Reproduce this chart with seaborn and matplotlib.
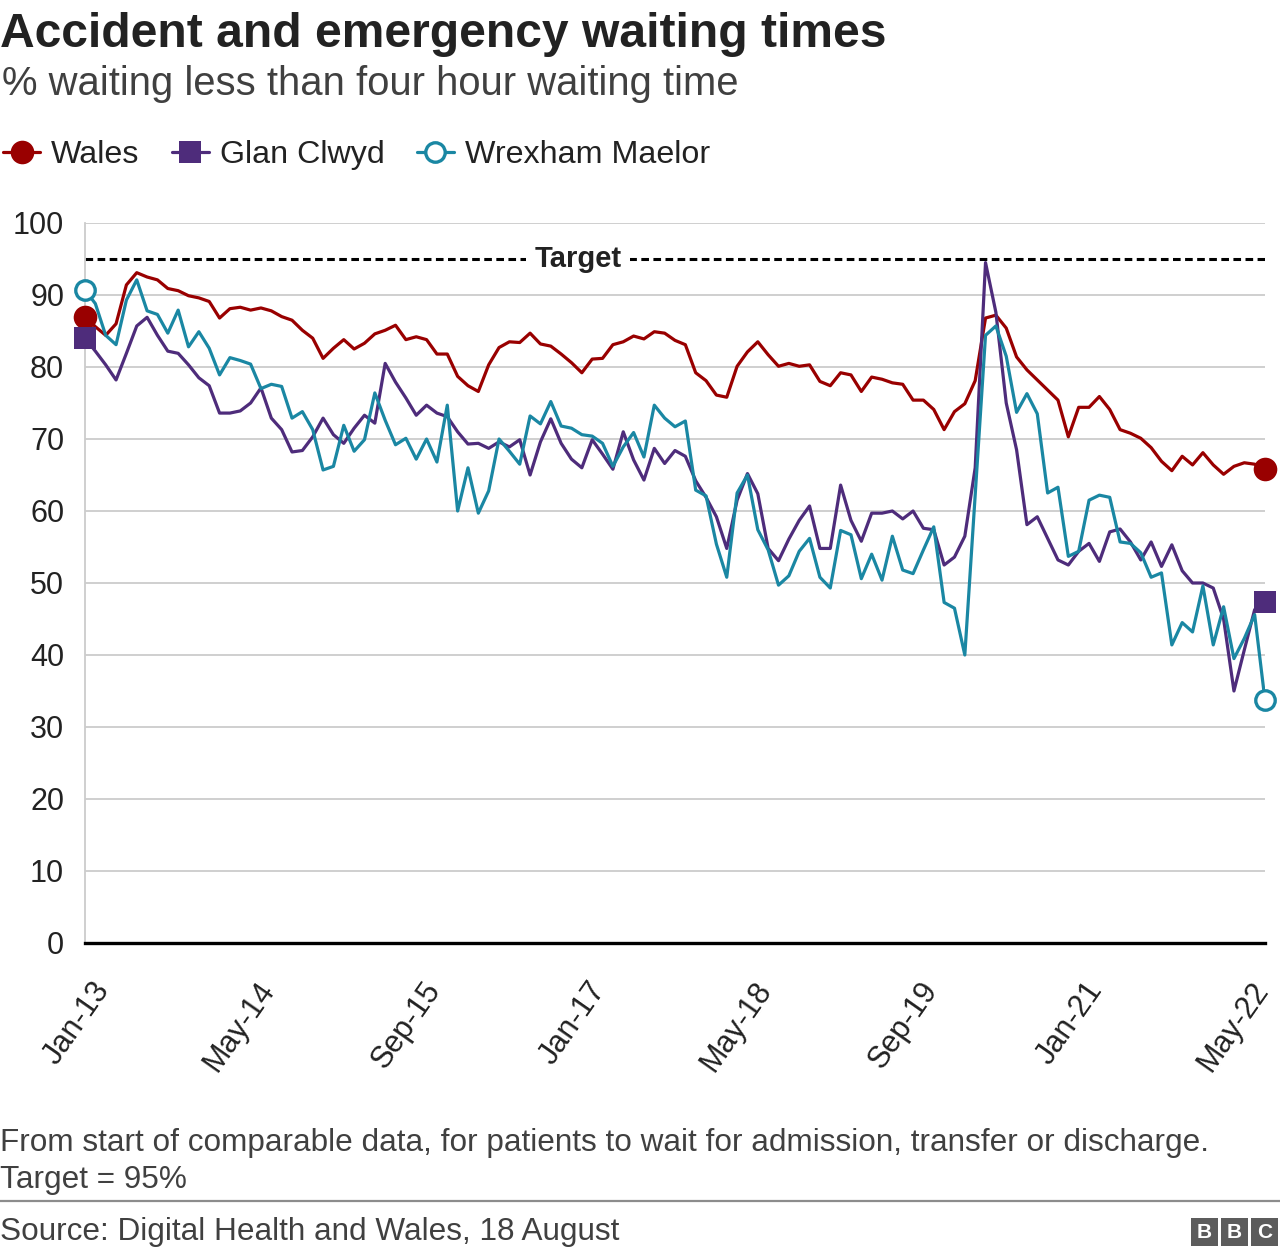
import matplotlib
matplotlib.use("Agg")
import matplotlib.pyplot as plt
from matplotlib.lines import Line2D
from matplotlib.patches import Rectangle
from matplotlib.transforms import ScaledTranslation
import pandas as pd
import seaborn as sns

# ---------------- data ----------------
wales = [87.0, 85.6, 84.4, 86.0, 91.4, 93.1, 92.5, 92.1, 90.9, 90.6,
         89.9, 89.6, 89.1, 86.8, 88.1, 88.3, 87.9, 88.2, 87.8, 87.0,
         86.5, 85.1, 84.0, 81.2, 82.6, 83.8, 82.5, 83.3, 84.6, 85.1,
         85.8, 83.8, 84.2, 83.8, 81.8, 81.8, 78.7, 77.4, 76.6, 80.3,
         82.7, 83.5, 83.4, 84.7, 83.2, 82.9, 81.8, 80.6, 79.2, 81.1,
         81.2, 83.1, 83.5, 84.3, 83.9, 84.9, 84.7, 83.7, 83.1, 79.2,
         78.1, 76.1, 75.8, 80.1, 82.1, 83.5, 81.7, 80.1, 80.5, 80.1,
         80.3, 78.0, 77.4, 79.2, 78.9, 76.6, 78.6, 78.3, 77.8, 77.6,
         75.4, 75.4, 74.1, 71.3, 73.8, 74.9, 78.1, 86.8, 87.2, 85.4,
         81.4, 79.6, 78.2, 76.8, 75.4, 70.3, 74.4, 74.4, 75.9, 74.1,
         71.3, 70.8, 70.1, 68.8, 66.9, 65.6, 67.6, 66.4, 68.1, 66.4,
         65.1, 66.2, 66.7, 66.5, 65.8]

glan_clwyd = [84.0, 82.2, 80.3, 78.2, 81.9, 85.7, 86.9, 84.4, 82.2, 81.9,
              80.3, 78.5, 77.4, 73.6, 73.6, 73.9, 75.0, 77.1, 72.9, 71.3,
              68.2, 68.4, 70.3, 72.9, 70.6, 69.4, 71.5, 73.3, 72.2, 80.5,
              77.9, 75.7, 73.3, 74.7, 73.6, 73.1, 71.0, 69.3, 69.4, 68.7,
              69.6, 68.9, 69.9, 65.0, 69.6, 72.8, 69.4, 67.2, 66.0, 69.9,
              67.9, 65.8, 71.0, 67.1, 64.3, 68.7, 66.6, 68.4, 67.6, 64.2,
              61.9, 59.2, 54.8, 61.5, 65.2, 62.4, 54.8, 53.1, 56.1, 58.7,
              60.7, 54.8, 54.8, 63.6, 58.7, 55.8, 59.7, 59.7, 60.0, 58.9,
              60.0, 57.6, 57.4, 52.5, 53.6, 56.5, 66.0, 94.5, 87.6, 75.0,
              68.5, 58.1, 59.2, 56.2, 53.2, 52.5, 54.4, 55.5, 53.0, 57.1,
              57.5, 55.7, 53.2, 55.7, 52.3, 55.3, 51.7, 50.0, 50.0, 49.3,
              45.0, 35.0, 40.7, 46.3, 47.4]

wrexham_maelor = [90.7, 88.8, 84.4, 83.1, 89.3, 92.1, 87.8, 87.3, 84.7, 87.9,
                  82.8, 84.9, 82.6, 78.9, 81.3, 80.9, 80.4, 77.0, 77.6, 77.3,
                  72.9, 73.8, 71.3, 65.7, 66.2, 71.9, 68.3, 69.9, 76.4, 72.6,
                  69.2, 70.1, 67.2, 70.0, 66.8, 74.7, 60.0, 66.0, 59.7, 62.8,
                  70.0, 68.3, 66.5, 73.2, 72.1, 75.2, 71.8, 71.5, 70.6, 70.4,
                  69.4, 66.2, 68.9, 70.9, 67.5, 74.7, 72.9, 71.7, 72.5, 62.9,
                  62.1, 55.4, 50.8, 62.5, 65.0, 57.4, 54.6, 49.7, 51.0, 54.4,
                  56.2, 50.8, 49.3, 57.3, 56.7, 50.6, 54.0, 50.4, 56.5, 51.8,
                  51.3, 54.6, 57.8, 47.3, 46.5, 40.0, 62.2, 84.4, 85.7, 81.5,
                  73.7, 76.3, 73.5, 62.5, 63.3, 53.7, 54.4, 61.5, 62.2, 61.9,
                  55.7, 55.5, 54.2, 50.8, 51.4, 41.4, 44.5, 43.2, 49.6, 41.4,
                  46.7, 39.5, 42.3, 45.6, 33.7]

series_names = ["Wales", "Glan Clwyd", "Wrexham Maelor"]
series_colors = ["#990000", "#4e2c7b", "#1a87a3"]
tick_months = [0, 16, 32, 48, 64, 80, 96, 112]
tick_labels = ["Jan-13", "May-14", "Sep-15", "Jan-17", "May-18", "Sep-19", "Jan-21", "May-22"]
target = 95

# ---------------- build table ----------------
n = len(wales)
rows = []
for name, vals in zip(series_names, [wales, glan_clwyd, wrexham_maelor]):
    for i, v in enumerate(vals):
        rows.append({"month": i, "value": v, "series": name})
df = pd.DataFrame(rows)

sns.set_theme(style="white")
plt.rcParams["font.family"] = ["Liberation Sans", "DejaVu Sans"]
plt.rcParams["lines.scale_dashes"] = False

W, H = 1280, 1256
fig = plt.figure(figsize=(W / 100, H / 100), dpi=100)
ax = fig.add_axes([85 / W, 1 - 943 / H, 1180 / W, 720 / H])

sns.lineplot(data=df, x="month", y="value", hue="series", hue_order=series_names,
             palette=dict(zip(series_names, series_colors)), linewidth=2.3,
             legend=False, ax=ax, zorder=3)

# end markers
marker_styles = [dict(marker="o", ms=17, mfc=series_colors[0], mec=series_colors[0], mew=0),
                 dict(marker="s", ms=16.5, mfc=series_colors[1], mec=series_colors[1], mew=0),
                 dict(marker="o", ms=14, mfc="white", mec=series_colors[2], mew=2.4)]
for vals, st in zip([wales, glan_clwyd, wrexham_maelor], marker_styles):
    ax.plot([0, n - 1], [vals[0], vals[-1]], ls="none", clip_on=False, zorder=5, **st)

# target line
ax.axhline(target, color="black", lw=2.2, dashes=(5.5, 3.2), zorder=2)
ax.text((578 - 85) / 1180, target, "Target", transform=ax.get_yaxis_transform(),
        ha="center", va="center", fontsize=21, fontweight="bold", color="#222222",
        bbox=dict(facecolor="white", edgecolor="none", pad=6), zorder=4)

ax.set_xlim(0, n - 1)
ax.set_ylim(0, 100)
ax.set_yticks(range(0, 101, 10))
ax.set_xticks(tick_months)
ax.set_xlabel("")
ax.set_ylabel("")
ax.yaxis.grid(True, color="#cccccc", lw=1.3)
ax.xaxis.grid(False)
ax.set_axisbelow(True)
for s in ["top", "right"]:
    ax.spines[s].set_visible(False)
ax.spines["left"].set_color("#cccccc")
ax.spines["left"].set_linewidth(1.3)
ax.spines["bottom"].set_color("black")
ax.spines["bottom"].set_linewidth(2.4)
ax.spines["bottom"].set_zorder(6)
ax.tick_params(axis="y", length=0, pad=15, labelsize=22, labelcolor="#222222")
ax.tick_params(axis="x", length=0, pad=24, labelsize=22, labelcolor="#222222")
ax.set_xticklabels(tick_labels, rotation=55, ha="right", va="top", rotation_mode="anchor")
shift = ScaledTranslation(6 / 100, 0, fig.dpi_scale_trans)
for tk in ax.xaxis.get_major_ticks():
    tk.label1.set_transform(tk.label1.get_transform() + shift)

# titles
def fx(x):
    return x / W

def fy(y):
    return 1 - y / H

fig.text(fx(0), fy(47), "Accident and emergency waiting times", fontsize=34.6,
         fontweight="bold", color="#222222", va="baseline", ha="left")
fig.text(fx(2), fy(95), "% waiting less than four hour waiting time", fontsize=28.8,
         color="#404040", va="baseline", ha="left")

# legend
handles = []
for name, c, st in zip(series_names, series_colors, marker_styles):
    handles.append(Line2D([], [], color=c, lw=2.3, **st))
fig.legend(handles, series_names, loc="center left", bbox_to_anchor=(fx(3), fy(155)),
           ncol=3, frameon=False, fontsize=23.2, handlelength=1.15, handletextpad=0.34,
           columnspacing=1.0, borderpad=0, borderaxespad=0, labelcolor="#222222")

# footer
fig.text(fx(0), fy(1151), "From start of comparable data, for patients to wait for admission, transfer or discharge.",
         fontsize=22.7, color="#404040", va="baseline", ha="left")
fig.text(fx(0), fy(1188), "Target = 95%", fontsize=22.7, color="#404040", va="baseline", ha="left")
fig.add_artist(Line2D([0, 1], [fy(1201), fy(1201)], color="#8c8c8c", lw=1.6))
fig.text(fx(0), fy(1240), "Source: Digital Health and Wales, 18 August", fontsize=22.7,
         color="#404040", va="baseline", ha="left")

# BBC blocks
for k, letter in enumerate("BBC"):
    x0 = 1191 + k * 30
    fig.add_artist(Rectangle((fx(x0), fy(1246)), 27 / W, 28 / H, facecolor="#5c5c5c",
                             edgecolor="none", transform=fig.transFigure))
    fig.text(fx(x0 + 13.5), fy(1232), letter, fontsize=15, fontweight="bold", color="white",
             ha="center", va="center")

fig.savefig("out.png", dpi=100)
